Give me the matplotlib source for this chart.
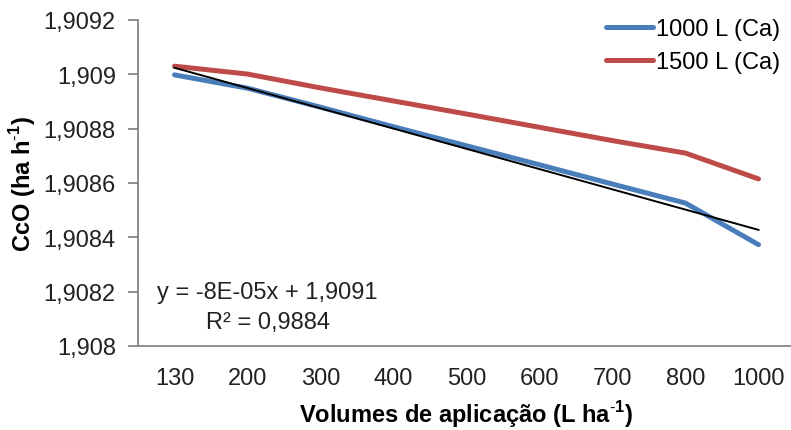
import numpy as np
import matplotlib
matplotlib.use('Agg')
import matplotlib.pyplot as plt
from matplotlib.ticker import FuncFormatter

plt.rcParams['font.family'] = ['Liberation Sans', 'DejaVu Sans']
plt.rcParams['mathtext.fontset'] = 'custom'
plt.rcParams['mathtext.rm'] = 'Liberation Sans'
plt.rcParams['mathtext.bf'] = 'Liberation Sans:bold'

volumes = ['130', '200', '300', '400', '500', '600', '700', '800', '1000']
ccO_1000 = [1.908998, 1.908949, 1.908879, 1.908807, 1.908737, 1.908667, 1.908596, 1.908526, 1.908373]
ccO_1500 = [1.909030, 1.909001, 1.908950, 1.908902, 1.908854, 1.908805, 1.908756, 1.908710, 1.908615]
y_ticks = [1.908, 1.9082, 1.9084, 1.9086, 1.9088, 1.909, 1.9092]
eq_text = 'y = -8E-05x + 1,9091'
r2_text = 'R² = 0,9884'

fig = plt.figure(figsize=(7.91, 4.31), dpi=100)
ax = fig.add_axes([138 / 791, 84 / 431, 657 / 791, 326 / 431])

x = np.arange(1, len(volumes) + 1)
ax.plot(x, ccO_1000, color='#4A7EBB', lw=3.6, solid_capstyle='round', label='1000 L (Ca)')
ax.plot(x, ccO_1500, color='#BE4B48', lw=3.6, solid_capstyle='round', label='1500 L (Ca)')

# linear trend of the 1000 L series
coef = np.polyfit(x, ccO_1000, 1)
ax.plot(x, np.polyval(coef, x), color='black', lw=1.4)

ax.set_xlim(0.5, len(volumes) + 0.5)
ax.set_ylim(y_ticks[0], y_ticks[-1])
ax.set_xticks(x)
ax.set_xticklabels(volumes)
ax.set_yticks(y_ticks)
ax.yaxis.set_major_formatter(FuncFormatter(lambda v, p: f'{v:.4f}'.rstrip('0').replace('.', ',')))
ax.tick_params(axis='both', labelsize=17, colors='#222222')
ax.tick_params(axis='x', length=0, pad=15)
ax.tick_params(axis='y', length=7, width=1.3, color='#868686', pad=9)

for s in ['top', 'right']:
    ax.spines[s].set_visible(False)
for s in ['left', 'bottom']:
    ax.spines[s].set_color('#868686')
    ax.spines[s].set_linewidth(1.3)

ax.set_xlabel(r'Volumes de aplicação (L ha$^{\mathbf{\text{-}1}}$)', fontsize=17, fontweight='bold', labelpad=7)
ax.set_ylabel(r'CcO (ha h$^{\mathbf{\text{-}1}}$)', fontsize=17, fontweight='bold', labelpad=4)

fig.text(267 / 791, 1 - 293 / 431, eq_text, fontsize=17, ha='center', va='center', color='#222222')
fig.text(268 / 791, 1 - 323 / 431, r2_text, fontsize=17, ha='center', va='center', color='#222222')

fig.legend(loc='upper right', bbox_to_anchor=(790 / 791, 1 - 10 / 431), frameon=False,
           fontsize=17, handlelength=2.0, handletextpad=0.15, labelspacing=0.45, borderaxespad=0)

fig.savefig('out.png', dpi=100)
